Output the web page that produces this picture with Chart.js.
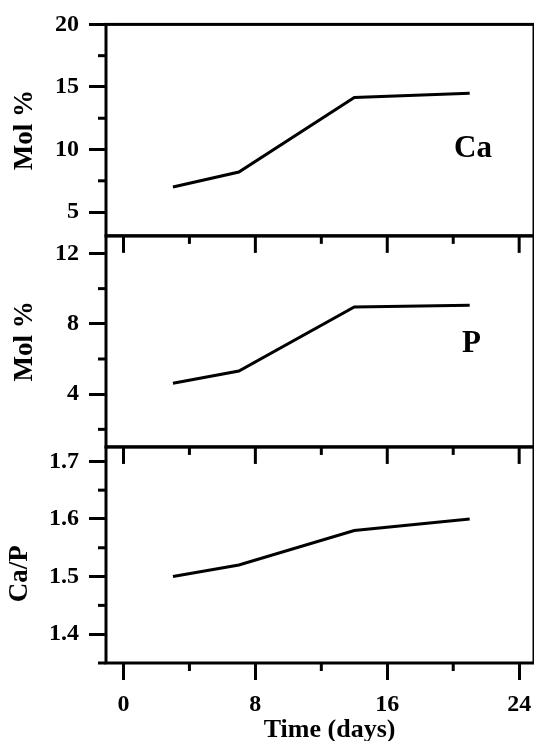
<!DOCTYPE html>
<html>
<head>
<meta charset="utf-8">
<script src="https://cdn.jsdelivr.net/npm/chart.js@4.4.1/dist/chart.umd.min.js"></script>
<style>
html, body { margin: 0; padding: 0; background: #fff; }
#wrap { width: 534px; height: 741px; position: relative; }
</style>
</head>
<body>
<div id="wrap"><canvas id="chart"></canvas></div>
<script>
// time points (days)
var days = [3, 7, 14, 21];
// series
var caMol = [7.0, 8.2, 14.15, 14.5];
var pMol = [4.62, 5.32, 8.96, 9.05];
var caP = [1.50, 1.52, 1.58, 1.60];

// tick labels
var xTicks = [0, 8, 16, 24];
var xMinor = [4, 12, 20];
var caTicks = [5, 10, 15, 20];
var caMinor = [7.5, 12.5, 17.5];
var pTicks = [4, 8, 12];
var pMinor = [2, 6, 10];
var ratioTicks = [1.4, 1.5, 1.6, 1.7];
var ratioMinor = [1.35, 1.45, 1.55, 1.65];

var serif = '"Liberation Serif", "Times New Roman", serif';
var tickFont = { family: serif, size: 24, weight: 'bold' };
var titleFont = { family: serif, size: 27, weight: 'bold' };

function pts(ys) {
	return days.map(function(d, i) { return { x: d, y: ys[i] }; });
}

function fixedTicks(list) {
	return function(scale) {
		scale.ticks = list.map(function(v) { return { value: v }; });
	};
}

function yAxis(list, min, max, title, weight) {
	return {
		type: 'linear',
		position: 'left',
		stack: 'panels',
		stackWeight: weight,
		min: min,
		max: max,
		afterBuildTicks: fixedTicks(list),
		afterFit: function(s) { s.width = 100; },
		border: { display: false },
		grid: { drawOnChartArea: false, drawTicks: true, tickLength: 17, lineWidth: 3, color: '#000' },
		ticks: { color: '#000', font: tickFont, padding: 10 },
		title: { display: !!title, text: title, color: '#000', font: titleFont, padding: { top: 3, bottom: 0 } }
	};
}

function line(ctx, x1, y1, x2, y2) {
	ctx.beginPath();
	ctx.moveTo(x1, y1);
	ctx.lineTo(x2, y2);
	ctx.stroke();
}

// panel frames, minor ticks, inner top ticks, element labels, titles
var panelFrames = {
	id: 'panelFrames',
	afterDraw: function(chart) {
		var ctx = chart.ctx, a = chart.chartArea, xs = chart.scales.x;
		var minors = { yCa: caMinor, yP: pMinor, yR: ratioMinor };
		ctx.save();
		ctx.strokeStyle = '#000';
		ctx.lineWidth = 3;
		['yCa', 'yP', 'yR'].forEach(function(id, k) {
			var s = chart.scales[id];
			ctx.strokeRect(a.left, s.top, a.right - a.left, s.bottom - s.top);
			minors[id].forEach(function(v) {
				var p = s.getPixelForValue(v);
				line(ctx, a.left - 8, p, a.left, p);
			});
			if (k > 0) {
				xTicks.forEach(function(v) {
					var p = xs.getPixelForValue(v);
					line(ctx, p, s.top, p, s.top + 17);
				});
				xMinor.forEach(function(v) {
					var p = xs.getPixelForValue(v);
					line(ctx, p, s.top, p, s.top + 8);
				});
			}
		});
		xMinor.forEach(function(v) {
			var p = xs.getPixelForValue(v);
			line(ctx, p, a.bottom, p, a.bottom + 8);
		});
		ctx.fillStyle = '#000';
		ctx.textAlign = 'center';
		ctx.textBaseline = 'alphabetic';
		ctx.font = 'bold 31px ' + serif;
		ctx.fillText('Ca', xs.getPixelForValue(21.2), chart.scales.yCa.getPixelForValue(9.4));
		ctx.fillText('P', xs.getPixelForValue(21.1), chart.scales.yP.getPixelForValue(6.39));
		ctx.font = 'bold 26px ' + serif;
		ctx.fillText('Time (days)', xs.getPixelForValue(12.5), 737);
		// Ca/P title sits a bit below its panel centre
		ctx.save();
		ctx.translate(20, chart.scales.yR.getPixelForValue(1.505));
		ctx.rotate(-Math.PI / 2);
		ctx.textBaseline = 'middle';
		ctx.font = 'bold 27px ' + serif;
		ctx.fillText('Ca/P', 0, 0);
		ctx.restore();
		ctx.restore();
	}
};

var lineStyle = { borderColor: '#000', borderWidth: 3, pointRadius: 0, tension: 0, fill: false };

new Chart(document.getElementById('chart'), {
	type: 'line',
	data: {
		datasets: [
			Object.assign({ label: 'Ca', data: pts(caMol), yAxisID: 'yCa' }, lineStyle),
			Object.assign({ label: 'P', data: pts(pMol), yAxisID: 'yP' }, lineStyle),
			Object.assign({ label: 'Ca/P', data: pts(caP), yAxisID: 'yR' }, lineStyle)
		]
	},
	options: {
		responsive: true,
		maintainAspectRatio: false,
		animation: false,
		layout: { padding: { top: 24, left: 6, right: 0, bottom: 0 } },
		plugins: { legend: { display: false }, tooltip: { enabled: false } },
		scales: {
			x: {
				type: 'linear',
				position: 'bottom',
				min: -1.06,
				max: 24.9,
				afterBuildTicks: fixedTicks(xTicks),
				afterFit: function(s) { s.height = 78; s.paddingLeft = 0; s.paddingRight = 0; },
				border: { display: false },
				grid: { drawOnChartArea: false, drawTicks: true, tickLength: 17, lineWidth: 3, color: '#000' },
				ticks: { color: '#000', font: tickFont, padding: 10, maxRotation: 0 },
				title: { display: false }
			},
			yR: yAxis(ratioTicks, 1.35, 1.725, '', 2163),
			yP: yAxis(pTicks, 1, 13, 'Mol %', 2113),
			yCa: yAxis(caTicks, 3.1, 20, 'Mol %', 2117)
		}
	},
	plugins: [panelFrames]
});
</script>
</body>
</html>
